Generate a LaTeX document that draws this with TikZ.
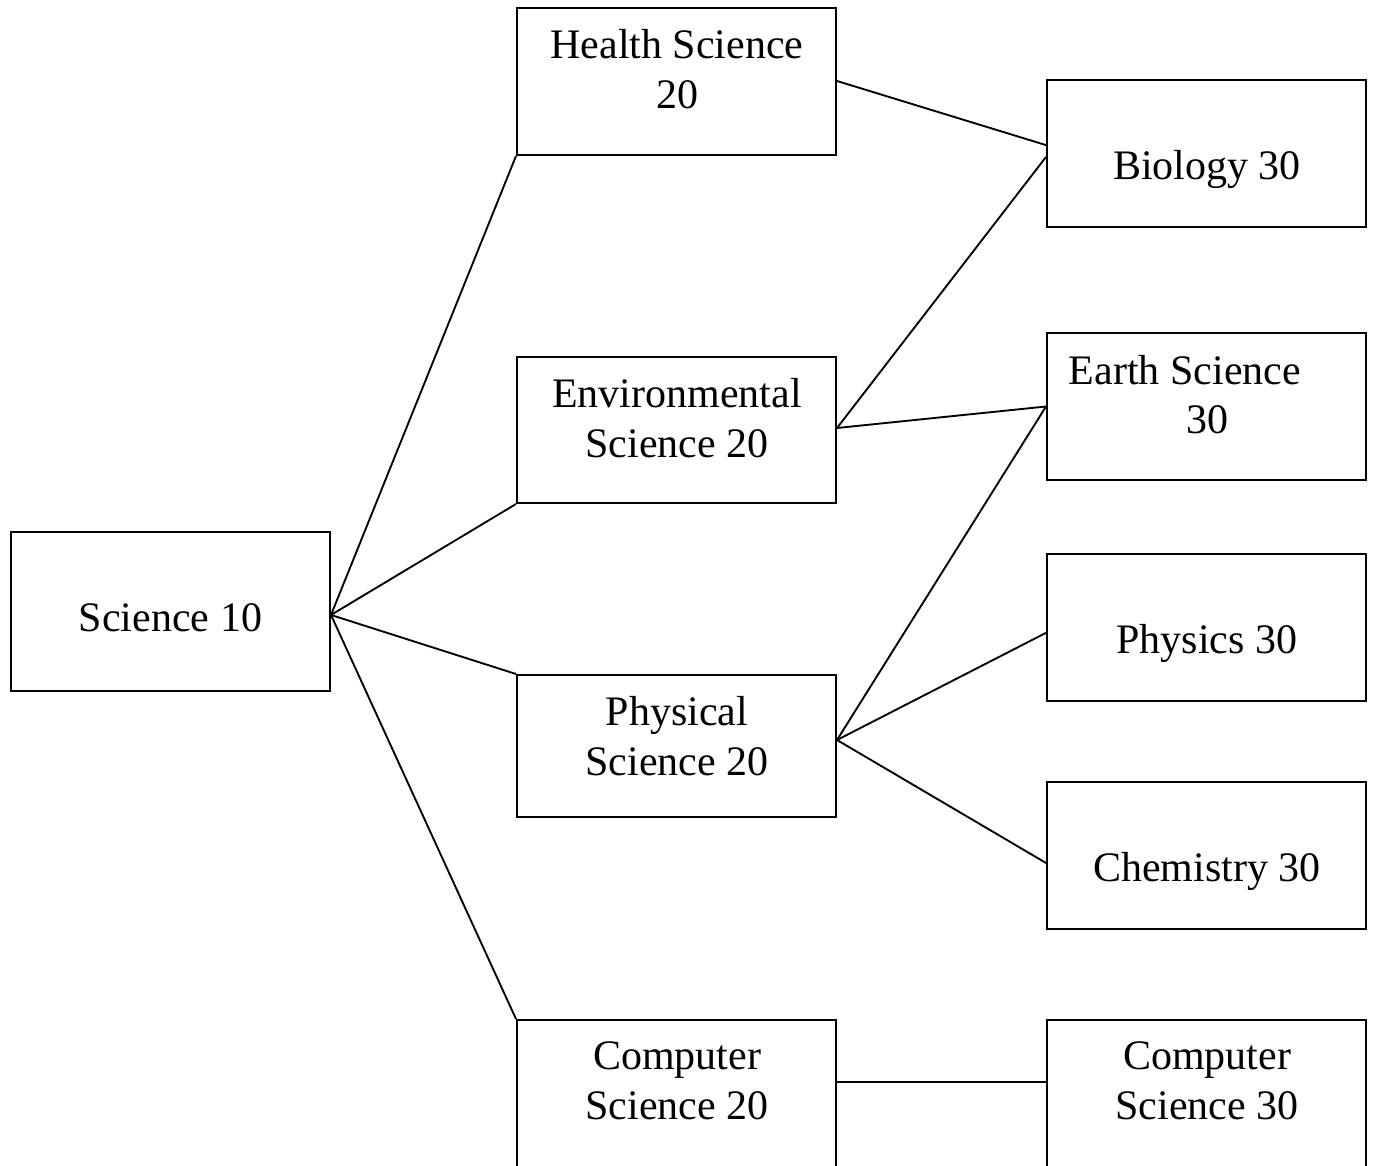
\documentclass[tikz,border=0pt]{standalone}
\usepackage{fontspec}
\setmainfont{Liberation Serif}
\usetikzlibrary{calc}
\begin{document}
\begin{tikzpicture}[x=0.75pt,y=-0.75pt,
  box/.style={draw=black,line width=1.5pt,fill=white,inner sep=0pt,minimum width=319*0.75pt},
  lbl/.style={font=\fontsize{31.5}{37.5}\selectfont,inner sep=0pt,align=center},
  conn/.style={line width=1.4pt,draw=black}]
\useasboundingbox (0,0) rectangle (1374,1166);
\clip (0,0) rectangle (1374,1166);
% boxes (centre x, centre y, height)
\node[box,minimum height=159*0.75pt] (s10) at (170.5,611.5) {};
\node[box,minimum height=147*0.75pt] (h20) at (676.5,81.5) {};
\node[box,minimum height=146*0.75pt] (e20) at (676.5,430) {};
\node[box,minimum height=142*0.75pt] (p20) at (676.5,746) {};
\node[box,minimum height=160*0.75pt] (c20) at (676.5,1100) {};
\node[box,minimum height=147*0.75pt] (b30) at (1206.5,153.5) {};
\node[box,minimum height=147*0.75pt] (es30) at (1206.5,406.5) {};
\node[box,minimum height=147*0.75pt] (ph30) at (1206.5,627.5) {};
\node[box,minimum height=147*0.75pt] (ch30) at (1206.5,855.5) {};
\node[box,minimum height=160*0.75pt] (c30) at (1206.5,1100) {};
% labels
\node[lbl] (t1) at (170.5,618) {Science 10};
\node[lbl] (t2) at (677,69) {Health Science\\20};
\node[lbl] (t3) at (677,418) {Environmental\\Science 20};
\node[lbl] (t4) at (677,736) {Physical\\Science 20};
\node[lbl] (t5) at (677,1081) {Computer\\Science 20};
\node[lbl] (t6) at (1207,169.5) {Biology 30};
\node[lbl,align=left] (t7a) at (1185,370) {Earth Science};
\node[lbl] (t7b) at (1207,420) {30};
\node[lbl] (t8) at (1207,643.5) {Physics 30};
\node[lbl] (t9) at (1207,871.5) {Chemistry 30};
\node[lbl] (t10) at (1207,1081) {Computer\\Science 30};
% connectors
\coordinate (s10o) at ([yshift=-2.6pt]s10.east);
\draw[conn] (s10o) -- (h20.south west);
\draw[conn] (s10o) -- (e20.south west);
\draw[conn] (s10o) -- (p20.north west);
\draw[conn] (s10o) -- (c20.north west);
\draw[conn] (h20.east |- 0,81) -- ([yshift=6.3pt]b30.west);
\draw[conn] ([yshift=1.5pt]e20.east) -- ([yshift=-2.6pt]b30.west);
\draw[conn] ([yshift=1.5pt]e20.east) -- (es30.west);
\draw[conn] ([yshift=4.5pt]p20.east) -- (es30.west);
\draw[conn] ([yshift=4.5pt]p20.east) -- ([yshift=-4pt]ph30.west);
\draw[conn] ([yshift=4.5pt]p20.east) -- ([yshift=-5.6pt]ch30.west);
\draw[conn] ([yshift=13.5pt]c20.east) -- ([yshift=13.5pt]c30.west);
\end{tikzpicture}
\end{document}
